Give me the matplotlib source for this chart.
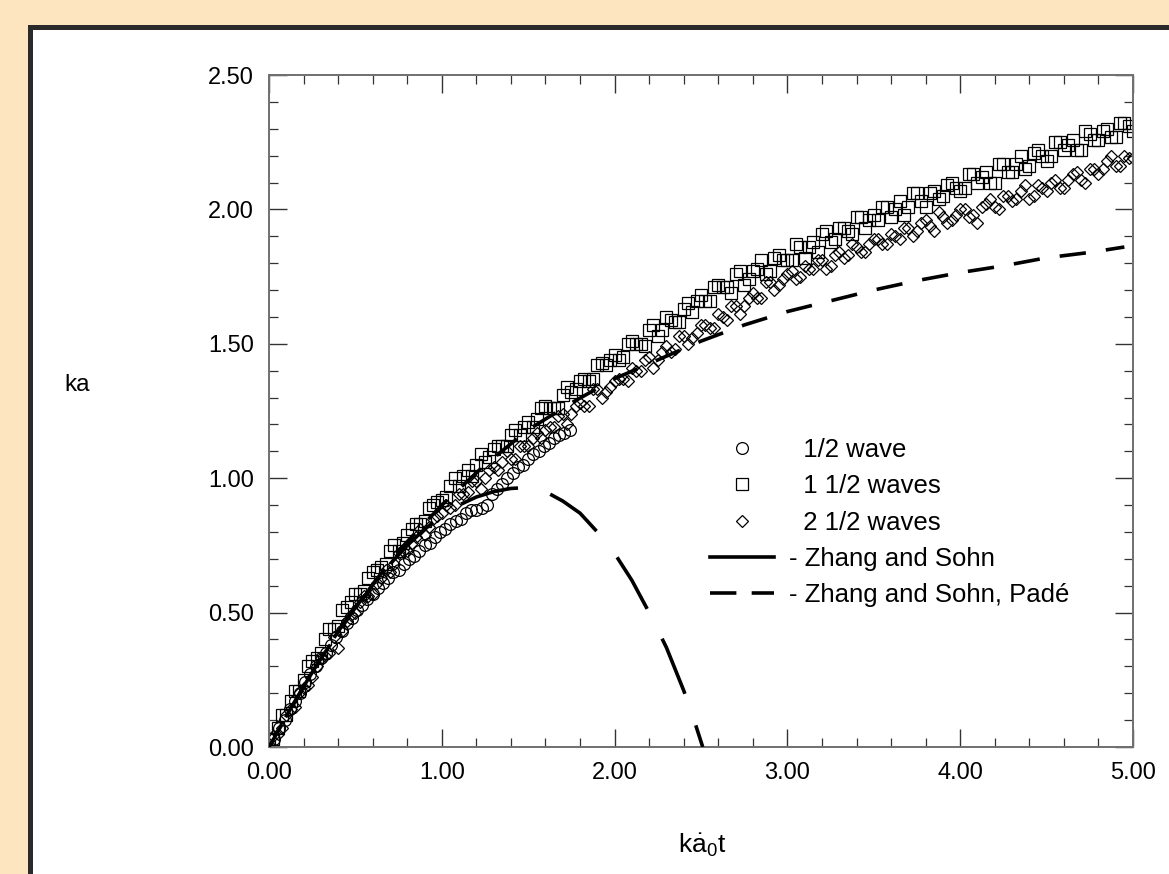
#!/usr/bin/env python3
# -*- coding: utf-8 -*-

"""
ka vs ka0't : wave data against Zhang and Sohn (plain and Pade)
"""
import matplotlib
matplotlib.use('Agg')
import matplotlib.pyplot as plt
from matplotlib.patches import Rectangle
from matplotlib.ticker import MultipleLocator, FormatStrFormatter
from matplotlib.lines import Line2D

# 1/2 wave (circles)
half_x = [0.00, 0.03, 0.06, 0.09, 0.12, 0.15, 0.18, 0.21, 0.24, 0.27, 0.30, 0.33, 0.36, 0.39,
          0.42, 0.45, 0.48, 0.51, 0.54, 0.57, 0.60, 0.63, 0.66, 0.69, 0.72, 0.75, 0.78, 0.81,
          0.84, 0.87, 0.90, 0.93, 0.96, 0.99, 1.02, 1.05, 1.08, 1.11, 1.14, 1.17, 1.20, 1.23,
          1.26, 1.29, 1.32, 1.35, 1.38, 1.41, 1.44, 1.47, 1.50, 1.53, 1.56, 1.59, 1.62, 1.65,
          1.68, 1.71, 1.74]
half_y = [0.00, 0.03, 0.07, 0.10, 0.14, 0.17, 0.20, 0.24, 0.27, 0.30, 0.33, 0.35, 0.38, 0.41,
          0.43, 0.46, 0.48, 0.51, 0.53, 0.55, 0.57, 0.59, 0.61, 0.63, 0.65, 0.66, 0.68, 0.70,
          0.71, 0.73, 0.75, 0.76, 0.78, 0.80, 0.81, 0.83, 0.84, 0.85, 0.87, 0.88, 0.88, 0.89,
          0.90, 0.94, 0.96, 0.98, 1.00, 1.02, 1.04, 1.05, 1.07, 1.09, 1.10, 1.12, 1.13, 1.15,
          1.16, 1.17, 1.18]

# 1 1/2 waves (squares) and 2 1/2 waves (diamonds), first set of sample times
wave_x = [0.00, 0.05, 0.10, 0.15, 0.20, 0.25, 0.30, 0.35, 0.40, 0.45, 0.50, 0.55, 0.60, 0.65,
          0.70, 0.75, 0.80, 0.85, 0.90, 0.95, 1.00, 1.05, 1.10, 1.15, 1.20, 1.25, 1.30, 1.35,
          1.40, 1.45, 1.50, 1.55, 1.60, 1.65, 1.70, 1.75, 1.80, 1.85, 1.90, 1.95, 2.00, 2.05,
          2.10, 2.15, 2.20, 2.25, 2.30, 2.35, 2.40, 2.45, 2.50, 2.55, 2.60, 2.65, 2.70, 2.75,
          2.80, 2.85, 2.90, 2.95, 3.00, 3.05, 3.10, 3.15, 3.20, 3.25, 3.30, 3.35, 3.40, 3.45,
          3.50, 3.55, 3.60, 3.65, 3.70, 3.75, 3.80, 3.85, 3.90, 3.95, 4.00, 4.05, 4.10, 4.15,
          4.20, 4.25, 4.30, 4.35, 4.40, 4.45, 4.50, 4.55, 4.60, 4.65, 4.70, 4.75, 4.80, 4.85,
          4.90, 4.95, 5.00]
one_half_y = [0.00, 0.07, 0.12, 0.21, 0.25, 0.32, 0.35, 0.44, 0.45, 0.52, 0.57, 0.58, 0.65, 0.67,
              0.73, 0.73, 0.79, 0.83, 0.84, 0.90, 0.92, 0.97, 0.97, 1.03, 1.05, 1.06, 1.11, 1.12,
              1.16, 1.16, 1.21, 1.22, 1.27, 1.26, 1.31, 1.32, 1.36, 1.36, 1.42, 1.42, 1.46, 1.45,
              1.51, 1.50, 1.55, 1.53, 1.60, 1.58, 1.63, 1.62, 1.68, 1.66, 1.72, 1.71, 1.76, 1.72,
              1.77, 1.81, 1.77, 1.83, 1.81, 1.87, 1.82, 1.88, 1.91, 1.88, 1.93, 1.92, 1.97, 1.93,
              1.98, 2.01, 1.97, 2.03, 2.01, 2.06, 2.01, 2.07, 2.05, 2.10, 2.07, 2.13, 2.10, 2.14,
              2.10, 2.17, 2.14, 2.20, 2.16, 2.22, 2.18, 2.25, 2.22, 2.26, 2.22, 2.28, 2.26, 2.30,
              2.27, 2.32, 2.29]
two_half_y = [0.00, 0.05, 0.12, 0.15, 0.22, 0.26, 0.33, 0.35, 0.37, 0.47, 0.50, 0.56, 0.57, 0.63,
              0.65, 0.72, 0.73, 0.78, 0.79, 0.85, 0.87, 0.89, 0.94, 0.95, 0.99, 1.00, 1.04, 1.06,
              1.07, 1.12, 1.12, 1.17, 1.18, 1.19, 1.24, 1.24, 1.28, 1.27, 1.33, 1.32, 1.36, 1.37,
              1.41, 1.40, 1.45, 1.44, 1.49, 1.48, 1.53, 1.52, 1.57, 1.56, 1.61, 1.59, 1.64, 1.64,
              1.69, 1.67, 1.73, 1.72, 1.76, 1.74, 1.79, 1.78, 1.81, 1.79, 1.84, 1.83, 1.86, 1.84,
              1.89, 1.87, 1.91, 1.89, 1.93, 1.92, 1.96, 1.92, 1.97, 1.96, 2.00, 1.97, 1.95, 2.02,
              2.01, 2.05, 2.03, 2.07, 2.04, 2.09, 2.07, 2.11, 2.08, 2.13, 2.11, 2.15, 2.13, 2.18,
              2.16, 2.20, 2.19]

# second set of sample times (runs in between)
wave_x2 = [0.025, 0.075, 0.125, 0.175, 0.225, 0.275, 0.325, 0.375, 0.425, 0.475,
           0.525, 0.575, 0.625, 0.675, 0.725, 0.775, 0.825, 0.875, 0.925, 0.975,
           1.025, 1.075, 1.125, 1.175, 1.225, 1.275, 1.325, 1.375, 1.425, 1.475,
           1.525, 1.575, 1.625, 1.675, 1.725, 1.775, 1.825, 1.875, 1.925, 1.975,
           2.025, 2.075, 2.125, 2.175, 2.225, 2.275, 2.325, 2.375, 2.425, 2.475,
           2.525, 2.575, 2.625, 2.675, 2.725, 2.775, 2.825, 2.875, 2.925, 2.975,
           3.025, 3.075, 3.125, 3.175, 3.225, 3.275, 3.325, 3.375, 3.425, 3.475,
           3.525, 3.575, 3.625, 3.675, 3.725, 3.775, 3.825, 3.875, 3.925, 3.975,
           4.025, 4.075, 4.125, 4.175, 4.225, 4.275, 4.325, 4.375, 4.425, 4.475,
           4.525, 4.575, 4.625, 4.675, 4.725, 4.775, 4.825, 4.875, 4.925, 4.975]
one_half_y2 = [0.03, 0.12, 0.17, 0.21, 0.30, 0.33, 0.40, 0.44, 0.51, 0.54,
               0.57, 0.63, 0.66, 0.68, 0.75, 0.76, 0.81, 0.83, 0.89, 0.91,
               0.93, 1.00, 1.01, 1.01, 1.09, 1.08, 1.12, 1.12, 1.18, 1.19,
               1.19, 1.26, 1.26, 1.26, 1.34, 1.33, 1.37, 1.37, 1.43, 1.44,
               1.44, 1.50, 1.50, 1.49, 1.57, 1.55, 1.59, 1.58, 1.65, 1.66,
               1.66, 1.71, 1.71, 1.69, 1.77, 1.74, 1.78, 1.76, 1.82, 1.81,
               1.81, 1.86, 1.86, 1.84, 1.92, 1.89, 1.93, 1.91, 1.97, 1.96,
               1.96, 2.01, 2.00, 1.98, 2.06, 2.03, 2.06, 2.04, 2.09, 2.08,
               2.08, 2.13, 2.12, 2.10, 2.17, 2.14, 2.17, 2.15, 2.21, 2.20,
               2.20, 2.25, 2.24, 2.22, 2.29, 2.26, 2.29, 2.27, 2.32, 2.31]
two_half_y2 = [0.04, 0.07, 0.14, 0.20, 0.23, 0.30, 0.34, 0.41, 0.43, 0.49,
               0.54, 0.56, 0.61, 0.66, 0.68, 0.73, 0.76, 0.81, 0.82, 0.86,
               0.90, 0.90, 0.94, 0.99, 0.96, 1.03, 1.03, 1.10, 1.07, 1.12,
               1.15, 1.15, 1.19, 1.23, 1.20, 1.27, 1.27, 1.33, 1.30, 1.34,
               1.37, 1.36, 1.40, 1.44, 1.41, 1.47, 1.47, 1.53, 1.50, 1.54,
               1.57, 1.56, 1.60, 1.64, 1.61, 1.67, 1.67, 1.73, 1.70, 1.74,
               1.77, 1.75, 1.78, 1.81, 1.78, 1.83, 1.82, 1.87, 1.84, 1.87,
               1.89, 1.87, 1.90, 1.93, 1.90, 1.95, 1.94, 1.99, 1.95, 1.98,
               2.00, 1.98, 2.01, 2.04, 2.00, 2.05, 2.04, 2.09, 2.05, 2.08,
               2.10, 2.08, 2.11, 2.14, 2.10, 2.15, 2.15, 2.20, 2.16, 2.19]

# Zhang and Sohn
zs_x = [0.0, 0.1, 0.2, 0.3, 0.4, 0.5, 0.6, 0.7, 0.8, 0.9, 1.0, 1.1, 1.2, 1.3, 1.4, 1.5,
        1.6, 1.7, 1.8, 1.9, 2.0, 2.1, 2.2, 2.3, 2.4, 2.45, 2.5, 2.51]
zs_y = [0.0, 0.115, 0.225, 0.33, 0.43, 0.52, 0.60, 0.68, 0.75, 0.81, 0.86, 0.90, 0.93, 0.95,
        0.962, 0.965, 0.95, 0.915, 0.87, 0.80, 0.72, 0.62, 0.50, 0.37, 0.21, 0.12, 0.02, 0.0]

# Zhang and Sohn, Pade
pade_x = [0.0, 0.25, 0.5, 0.75, 1.0, 1.25, 1.5, 1.75, 2.0, 2.25, 2.5, 2.75, 3.0, 3.25,
          3.5, 3.75, 4.0, 4.25, 4.5, 4.75, 4.95]
pade_y = [0.0, 0.28, 0.52, 0.73, 0.90, 1.05, 1.18, 1.28, 1.37, 1.44, 1.51, 1.57, 1.62, 1.66,
          1.70, 1.735, 1.765, 1.79, 1.82, 1.84, 1.86]


def main():
    plt.rcParams['font.family'] = ['Liberation Sans', 'DejaVu Sans']
    plt.rcParams['mathtext.fontset'] = 'custom'
    plt.rcParams['mathtext.rm'] = 'Liberation Sans'
    plt.rcParams['mathtext.it'] = 'Liberation Sans'
    plt.rcParams['lines.scale_dashes'] = False

    fig = plt.figure(figsize=(11.69, 8.74), dpi=100)
    fig.patch.set_facecolor('#fde6bf')
    # white panel with dark border on left / top
    fig.patches.append(Rectangle((29.5 / 1169, -0.2), 2.0, (874 - 27.5) / 874 + 0.2,
                                 transform=fig.transFigure, facecolor='white',
                                 edgecolor='#2a2a2a', lw=3.6, zorder=-10))

    ax = fig.add_axes([269 / 1169, 127 / 874, 864 / 1169, 672 / 874])
    ax.set_facecolor('none')

    mk = dict(ls='none', mfc='none', mec='black', mew=0.9)
    ax.plot(half_x, half_y, marker='o', ms=8.5, **mk)
    ax.plot(wave_x, one_half_y, marker='s', ms=8.5, **mk)
    ax.plot(wave_x2, one_half_y2, marker='s', ms=8.5, **mk)
    ax.plot(wave_x, two_half_y, marker='D', ms=5.8, **mk)
    ax.plot(wave_x2, two_half_y2, marker='D', ms=5.8, **mk)

    ax.plot(zs_x, zs_y, color='black', lw=2.6, zorder=5, ls=(42.5, (43, 24)))
    ax.plot(pade_x, pade_y, color='black', lw=2.6, zorder=5, ls=(0, (19, 14.5)))

    ax.set_xlim(0, 5)
    ax.set_ylim(0, 2.5)
    ax.xaxis.set_major_locator(MultipleLocator(1.0))
    ax.xaxis.set_minor_locator(MultipleLocator(0.2))
    ax.yaxis.set_major_locator(MultipleLocator(0.5))
    ax.yaxis.set_minor_locator(MultipleLocator(0.1))
    ax.xaxis.set_major_formatter(FormatStrFormatter('%.2f'))
    ax.yaxis.set_major_formatter(FormatStrFormatter('%.2f'))
    ax.tick_params(which='both', direction='in', top=True, right=True,
                   color='#333333', labelsize=17, pad=11)
    ax.tick_params(which='major', length=13, width=1.0)
    ax.tick_params(which='minor', length=6.5, width=0.9)
    for s in ax.spines.values():
        s.set_color('#707070')
        s.set_linewidth(1.4)

    ax.set_ylabel('ka', fontsize=17.5, rotation=0, ha='center', va='center')
    ax.yaxis.set_label_coords(-0.222, 0.539)
    ax.set_xlabel(r'k$\dot{\mathrm{a}}_{\mathrm{0}}$t', fontsize=19, ha='center', va='center')
    ax.xaxis.set_label_coords(0.501, -0.146)

    handles = [
        Line2D([], [], marker='o', ms=8.5, **mk),
        Line2D([], [], marker='s', ms=8.5, **mk),
        Line2D([], [], marker='D', ms=5.8, **mk),
        Line2D([], [], color='black', lw=2.6),
        Line2D([], [], color='black', lw=2.6, ls=(0, (19, 11))),
    ]
    labels = ['  1/2 wave', '  1 1/2 waves', '  2 1/2 waves',
              '- Zhang and Sohn', '- Zhang and Sohn, Padé']
    ax.legend(handles, labels, loc='upper left', bbox_to_anchor=(0.510, 0.4600),
              frameon=False, fontsize=18.5, handlelength=2.5, handletextpad=0.6,
              borderpad=0, borderaxespad=0, labelspacing=0.48)

    plt.savefig('out.png', dpi=100, facecolor=fig.get_facecolor())


if __name__ == '__main__':
    main()
